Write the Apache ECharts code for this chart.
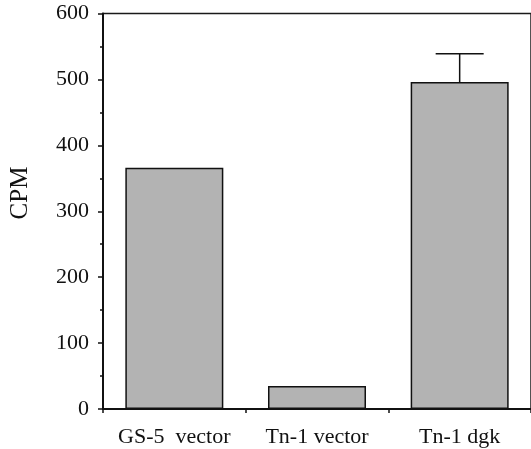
<!DOCTYPE html>
<html>
<head>
<meta charset="utf-8">
<script src="https://cdn.jsdelivr.net/npm/echarts@6/dist/echarts.min.js"></script>
<style>
html,body{margin:0;padding:0;background:#fff;}
#chart{width:531px;height:449px;}
</style>
</head>
<body>
<div id="chart"></div>
<script>
var categories = ['GS-5  vector', 'Tn-1 vector', 'Tn-1 dgk'];
var values = [366, 35, 496];
var errorTops = [null, null, 539];
var yTicks = [0, 100, 200, 300, 400, 500, 600];

var FONT = '"Liberation Serif", "DejaVu Serif", serif';
var chart = echarts.init(document.getElementById('chart'), null, {renderer: 'canvas'});

var errData = [];
for (var i = 0; i < categories.length; i++) {
  if (errorTops[i] != null) errData.push([i, values[i], errorTops[i]]);
}

chart.setOption({
  animation: false,
  backgroundColor: '#fff',
  grid: {left: 103, right: -7, top: 13.5, bottom: 40, show: true, borderColor: '#1a1a1a', borderWidth: 1.5, backgroundColor: 'transparent'},
  xAxis: {
    type: 'category',
    data: categories,
    axisLine: {lineStyle: {color: '#111', width: 2}},
    axisTick: {show: true, interval: 0, length: 4, lineStyle: {color: '#111', width: 1.5}},
    axisLabel: {show: true, interval: 0, color: '#111', fontFamily: FONT, fontSize: 22, margin: 17}
  },
  yAxis: {
    type: 'value',
    min: yTicks[0], max: yTicks[yTicks.length - 1], interval: 100,
    axisLine: {show: true, lineStyle: {color: '#111', width: 2}},
    axisTick: {show: true, length: 5, lineStyle: {color: '#111', width: 1.5}},
    minorTick: {show: true, splitNumber: 2, length: 3, lineStyle: {color: '#111', width: 1.5}},
    splitLine: {show: false},
    axisLabel: {color: '#111', fontFamily: FONT, fontSize: 22, margin: 14}
  },
  graphic: [{
    type: 'text',
    x: 20, y: 193,
    rotation: Math.PI / 2,
    style: {text: 'CPM', font: '25px ' + FONT, fill: '#111', textAlign: 'center', textVerticalAlign: 'middle'}
  }],
  series: [{
    type: 'bar',
    data: values,
    barWidth: 98,
    itemStyle: {color: '#b3b3b3', borderColor: '#111', borderWidth: 1.5},
    z: 2
  }, {
    type: 'custom',
    data: errData,
    z: 3,
    renderItem: function (params, api) {
      var x = api.value(0);
      var lo = api.coord([x, api.value(1)]);
      var hi = api.coord([x, api.value(2)]);
      var half = 24;
      return {
        type: 'group',
        children: [
          {type: 'line', shape: {x1: lo[0], y1: lo[1], x2: hi[0], y2: hi[1]}, style: {stroke: '#111', lineWidth: 1.5}},
          {type: 'line', shape: {x1: hi[0] - half, y1: hi[1], x2: hi[0] + half, y2: hi[1]}, style: {stroke: '#111', lineWidth: 1.5}}
        ]
      };
    }
  }]
});
</script>
</body>
</html>
